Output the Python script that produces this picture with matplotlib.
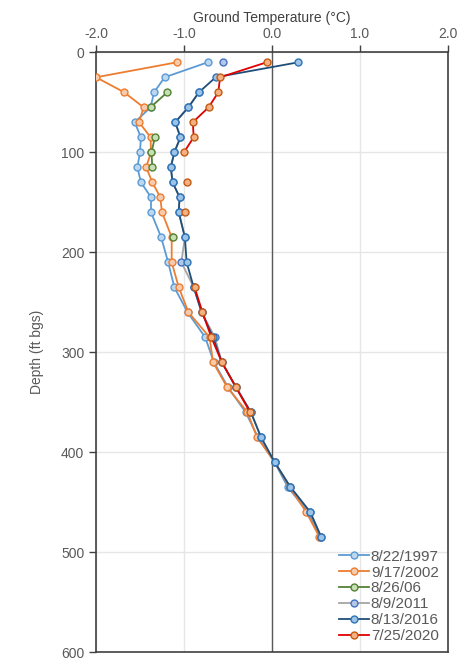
import numpy as np
import matplotlib.pyplot as plt

plt.rcParams['font.family'] = ['Liberation Sans', 'DejaVu Sans']

nan = np.nan

# depth of each thermistor (ft bgs)
depth = [10, 25, 40, 55, 70, 85, 100, 115, 130, 145, 160, 185, 210,
         235, 260, 285, 310, 335, 360, 385, 410, 435, 460, 485]

t_1997 = [-0.73, -1.22, -1.34, -1.38, -1.56, -1.49, -1.50, -1.53, -1.49, -1.375, -1.375, -1.26, -1.18,
          -1.11, -0.96, -0.76, -0.66, -0.50, -0.30, -0.16, 0.03, 0.18, 0.41, 0.55]
t_2002 = [-1.08, -2.00, -1.68, -1.46, -1.51, -1.38, -1.375, -1.43, -1.36, -1.27, -1.25, -1.14, -1.14,
          -1.06, -0.95, -0.71, -0.67, -0.51, -0.28, -0.17, 0.03, 0.20, 0.39, 0.54]
t_2006 = [nan, nan, -1.19, -1.38, nan, -1.33, -1.37, -1.36, nan, nan, nan, -1.13, nan,
          nan, nan, nan, nan, nan, nan, nan, nan, nan, nan, nan]
t_2011 = [-0.56, nan, -0.83, -0.95, -1.10, -1.04, -1.11, -1.15, -1.13, -1.05, -1.06, -0.99, -1.03,
          -0.89, -0.80, -0.65, -0.57, -0.41, -0.24, -0.125, 0.03, 0.21, 0.435, 0.56]
t_2016 = [0.30, -0.64, -0.83, -0.95, -1.10, -1.04, -1.11, -1.15, -1.13, -1.05, -1.06, -0.99, -0.97,
          -0.89, -0.80, -0.67, -0.57, -0.41, -0.24, -0.125, 0.03, 0.21, 0.435, 0.56]
t_2020 = [-0.06, -0.59, -0.61, -0.72, -0.90, -0.89, -1.00, nan, -0.97, nan, -0.99, nan, nan,
          -0.88, -0.79, -0.69, -0.57, -0.41, -0.25, nan, nan, nan, nan, nan]

labels = ['8/22/1997', '9/17/2002', '8/26/06', '8/9/2011', '8/13/2016', '7/25/2020']
series = [t_1997, t_2002, t_2006, t_2011, t_2016, t_2020]
# line colour, marker edge, marker face
styles = [('#5B9BD5', '#5B9BD5', '#BDD7EE'),
          ('#ED7D31', '#ED7D31', '#F8CBAD'),
          ('#548235', '#548235', '#C5E0B4'),
          ('#A5A5A5', '#4472C4', '#B4C7E7'),
          ('#1F4E79', '#2E75B6', '#9DC3E6'),
          ('#E00000', '#C55A11', '#F4B183')]

fig = plt.figure(figsize=(4.73, 6.62), dpi=100)
ax = fig.add_axes([0.203, 0.015, 0.744, 0.906])

ax.axvline(0, color='#595959', lw=1.0, zorder=2)
for t, lab, (lc, me, mf) in zip(series, labels, styles):
    ax.plot(t, depth, color=lc, lw=1.3, marker='o', ms=5, mec=me, mfc=mf,
            mew=1.0, label=lab, zorder=3)

ax.set_xlim(-2, 2)
ax.set_ylim(600, 0)
ax.set_xticks([-2, -1, 0, 1, 2])
ax.set_xticklabels(['-2.0', '-1.0', '0.0', '1.0', '2.0'])
ax.set_yticks(range(0, 601, 100))
ax.xaxis.tick_top()
ax.xaxis.set_label_position('top')
ax.set_xlabel('Ground Temperature (°C)', fontsize=10, color='#404040', labelpad=4)
ax.set_ylabel('Depth (ft bgs)', fontsize=10, color='#595959', labelpad=12)
ax.tick_params(axis='both', labelsize=10, labelcolor='#595959', color='#404040',
               length=5, width=1.0, direction='out')
ax.tick_params(axis='x', pad=3)

ax.grid(True, color='#E6E6E6', lw=1.0, zorder=0)
for s in ax.spines.values():
    s.set_color('#404040')
    s.set_linewidth(1.2)

ax.legend(loc='lower right', frameon=False, fontsize=11, handlelength=2.0,
          handletextpad=0.1, labelspacing=0.12, borderaxespad=0.2,
          labelcolor='#595959')

plt.savefig('out.png', dpi=100)
plt.close()
